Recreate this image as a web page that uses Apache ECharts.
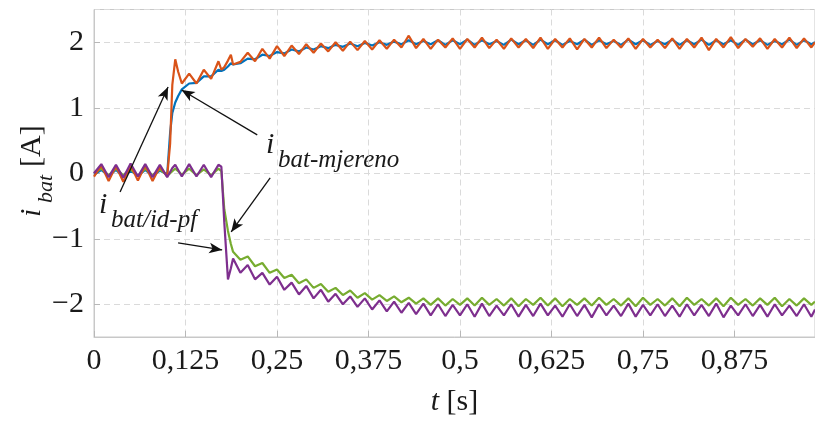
<!DOCTYPE html>
<html>
<head>
    <meta charset="UTF-8">
    <title>i_bat</title>
    <script src="https://cdn.jsdelivr.net/npm/echarts@6/dist/echarts.min.js"></script>
    <style>
        html, body { margin: 0; padding: 0; background: #fff; }
        #main { width: 815px; height: 421px; }
    </style>
</head>
<body>
    <div id="main"></div>
    <script type="text/javascript">
        // time base [s]
        const T = [
            0, 0.01, 0.02, 0.03, 0.04, 0.05, 0.06, 0.07, 0.08, 0.09, 0.10,
            0.104, 0.107, 0.111, 0.115, 0.12,
            0.13, 0.14, 0.15, 0.16, 0.17,
            0.174, 0.178, 0.183, 0.187,
            0.19, 0.20, 0.21, 0.22, 0.23, 0.24, 0.25, 0.26, 0.27, 0.28,
            0.29, 0.30, 0.31, 0.32, 0.33, 0.34, 0.35, 0.36, 0.37, 0.38,
            0.39, 0.40, 0.41, 0.42, 0.43, 0.44, 0.45, 0.46, 0.47, 0.48,
            0.49, 0.50, 0.51, 0.52, 0.53, 0.54, 0.55, 0.56, 0.57, 0.58,
            0.59, 0.60, 0.61, 0.62, 0.63, 0.64, 0.65, 0.66, 0.67, 0.68,
            0.69, 0.70, 0.71, 0.72, 0.73, 0.74, 0.75, 0.76, 0.77, 0.78,
            0.79, 0.80, 0.81, 0.82, 0.83, 0.84, 0.85, 0.86, 0.87, 0.88,
            0.89, 0.90, 0.91, 0.92, 0.93, 0.94, 0.95, 0.96, 0.97, 0.98,
            0.985
        ];

        // i_bat/id-pf (+)
        const orange = [
            -0.05, 0.12, -0.12, 0.11, -0.13, 0.12, -0.11, 0.12, -0.12, 0.10, -0.05,
            0.45, 1.35, 1.74, 1.55, 1.37,
            1.52, 1.37, 1.58, 1.44, 1.71,
            1.58, 1.62, 1.72, 1.81,
            1.66, 1.70, 1.84, 1.71, 1.90, 1.75, 1.94, 1.79, 1.95, 1.82,
            1.97, 1.84, 1.98, 1.86, 2.00, 1.87, 2.01, 1.88, 2.02, 1.89,
            2.03, 1.90, 2.04, 1.92, 2.10, 1.91, 2.05, 1.90, 2.04, 1.92,
            2.06, 1.90, 2.05, 1.92, 2.07, 1.91, 2.04, 1.90, 2.06, 1.92,
            2.05, 1.91, 2.07, 1.90, 2.05, 1.92, 2.06, 1.89, 2.05, 1.92,
            2.07, 1.91, 2.04, 1.92, 2.06, 1.90, 2.05, 1.92, 2.04, 1.91,
            2.06, 1.90, 2.05, 1.92, 2.07, 1.88, 2.05, 1.92, 2.08, 1.91,
            2.05, 1.93, 2.06, 1.90, 2.05, 1.92, 2.07, 1.91, 2.06, 1.92,
            2.00
        ];

        // i_bat-mjereno (+)
        const blue = [
            -0.02, 0.05, -0.04, 0.05, -0.05, 0.04, -0.04, 0.05, -0.04, 0.04, -0.02,
            0.62, 0.92, 1.08, 1.18, 1.28,
            1.37, 1.38, 1.48, 1.48, 1.58,
            1.56, 1.58, 1.63, 1.68,
            1.66, 1.68, 1.75, 1.74, 1.81, 1.79, 1.85, 1.83, 1.89, 1.86,
            1.92, 1.89, 1.94, 1.91, 1.96, 1.93, 1.98, 1.94, 1.99, 1.95,
            2.00, 1.96, 2.01, 1.97, 2.03, 1.97, 2.02, 1.97, 2.03, 1.96,
            2.03, 1.97, 2.04, 1.96, 2.03, 1.97, 2.02, 1.96, 2.04, 1.97,
            2.03, 1.96, 2.04, 1.97, 2.03, 1.96, 2.02, 1.97, 2.04, 1.96,
            2.03, 1.97, 2.02, 1.96, 2.04, 1.97, 2.03, 1.96, 2.02, 1.97,
            2.04, 1.96, 2.03, 1.97, 2.04, 1.96, 2.03, 1.97, 2.03, 1.96,
            2.04, 1.97, 2.03, 1.96, 2.02, 1.97, 2.04, 1.96, 2.03, 1.97,
            2.00
        ];

        // i_bat/id-pf (-)
        const purple = [
            0.00, 0.14, -0.06, 0.13, -0.07, 0.15, -0.05, 0.14, -0.06, 0.13, -0.06,
            0.02, 0.08, 0.13, 0.05, -0.05,
            0.14, -0.05, 0.13, -0.06, 0.13,
            0.10, -0.75, -1.62, -1.45,
            -1.30, -1.52, -1.40, -1.62, -1.52, -1.70, -1.58, -1.78, -1.67, -1.85,
            -1.72, -1.91, -1.78, -1.96, -1.84, -2.00, -1.88, -2.04, -1.91, -2.08,
            -1.94, -2.11, -1.96, -2.13, -1.98, -2.15, -1.99, -2.17, -2.00, -2.18,
            -2.01, -2.17, -2.00, -2.19, -1.99, -2.18, -2.02, -2.17, -2.00, -2.19,
            -2.01, -2.18, -1.99, -2.17, -2.02, -2.19, -2.00, -2.18, -2.01, -2.20,
            -2.00, -2.17, -2.02, -2.18, -1.99, -2.19, -2.01, -2.17, -2.00, -2.18,
            -2.02, -2.19, -2.00, -2.17, -2.01, -2.18, -1.99, -2.20, -2.02, -2.17,
            -2.00, -2.18, -2.01, -2.19, -2.00, -2.17, -2.02, -2.18, -2.00, -2.19,
            -2.08
        ];

        // i_bat-mjereno (-)
        const green = [
            0.00, 0.07, -0.03, 0.07, -0.03, 0.06, -0.04, 0.07, -0.03, 0.06, -0.03,
            0.00, 0.03, 0.07, 0.03, -0.02,
            0.07, -0.03, 0.06, -0.03, 0.07,
            0.03, -0.55, -0.88, -1.08,
            -1.20, -1.32, -1.27, -1.42, -1.37, -1.52, -1.47, -1.60, -1.55, -1.68,
            -1.62, -1.75, -1.69, -1.81, -1.75, -1.86, -1.79, -1.90, -1.83, -1.93,
            -1.86, -1.95, -1.88, -1.97, -1.90, -1.99, -1.91, -2.01, -1.91, -2.02,
            -1.92, -2.01, -1.91, -2.02, -1.90, -2.01, -1.92, -2.02, -1.91, -2.03,
            -1.92, -2.01, -1.90, -2.02, -1.91, -2.03, -1.92, -2.01, -1.91, -2.02,
            -1.90, -2.01, -1.92, -2.02, -1.91, -2.03, -1.90, -2.01, -1.92, -2.02,
            -1.91, -2.03, -1.90, -2.01, -1.92, -2.02, -1.91, -2.03, -1.90, -2.01,
            -1.92, -2.02, -1.91, -2.01, -1.90, -2.03, -1.92, -2.02, -1.91, -2.01,
            -1.96
        ];

        const xTickLabels = ['0', '0,125', '0,25', '0,375', '0,5', '0,625', '0,75', '0,875'];
        const yTicks = [-2, -1, 0, 1, 2];
        const yTickLabels = ['\u22122', '\u22121', '0', '1', '2'];

        // annotation arrows [from, to] in data units
        const arrows = [
            [[0.223, 0.585], [0.1197, 1.27]],
            [[0.2407, -0.072], [0.1874, -0.896]],
            [[0.0356, -0.285], [0.1012, 1.318]],
            [[0.1149, -1.064], [0.1751, -1.171]]
        ];

        const FONT = 'Liberation Serif';
        const TXT = '#1a1a1a';

        function pairs(ys) {
            return T.map((t, i) => [t, ys[i]]);
        }

        let myChart = echarts.init(document.getElementById('main'));

        let series = [
            { name: 'mjereno+', data: pairs(blue), color: '#0072BD' },
            { name: 'mjereno-', data: pairs(green), color: '#77AC30' },
            { name: 'idpf+', data: pairs(orange), color: '#D95319' },
            { name: 'idpf-', data: pairs(purple), color: '#7E2F8E' }
        ].map(s => ({
            name: s.name,
            type: 'line',
            data: s.data,
            showSymbol: false,
            lineStyle: { color: s.color, width: 2.2 },
            itemStyle: { color: s.color },
            z: 2
        }));

        series[3].markLine = {
            silent: true,
            symbol: ['none', 'arrow'],
            symbolSize: [8, 13],
            label: { show: false },
            lineStyle: { color: '#111', width: 1.3, type: 'solid' },
            data: arrows.map(a => [{ coord: a[0] }, { coord: a[1] }]),
            z: 10
        };

        // i + subscript helper for graphic text
        function labelParts(x, y, sub) {
            return [
                {
                    type: 'text', x: x, y: y,
                    style: { text: 'i', fontFamily: FONT, fontStyle: 'italic', fontSize: 30, fill: TXT, verticalAlign: 'middle' }
                },
                {
                    type: 'text', x: x + 12, y: y + 15,
                    style: { text: sub, fontFamily: FONT, fontStyle: 'italic', fontSize: 25, fill: TXT, verticalAlign: 'middle' }
                }
            ];
        }

        myChart.setOption({
            animation: false,
            backgroundColor: '#fff',
            grid: {
                left: 94, right: 0, top: 9.5, bottom: 84,
                show: true, borderColor: '#c8c8c8', borderWidth: 1,
                outerBoundsMode: 'none'
            },
            xAxis: {
                type: 'value',
                min: 0, max: 0.985, interval: 0.125,
                name: '{t|t}{u| [s]}',
                nameLocation: 'middle',
                nameGap: 50,
                nameTextStyle: {
                    rich: {
                        t: { fontFamily: FONT, fontSize: 30, fontStyle: 'italic', color: TXT },
                        u: { fontFamily: FONT, fontSize: 30, color: TXT }
                    }
                },
                axisLine: { show: true, onZero: false, lineStyle: { color: '#c8c8c8' } },
                axisTick: { show: true, inside: true, length: 6, lineStyle: { color: '#b8b8b8' } },
                axisLabel: {
                    margin: 9,
                    fontFamily: FONT, fontSize: 30, color: TXT,
                    showMaxLabel: false,
                    formatter: v => {
                        let k = Math.round(v / 0.125);
                        return Math.abs(k * 0.125 - v) < 1e-6 && xTickLabels[k] !== undefined ? xTickLabels[k] : '';
                    }
                },
                splitLine: { show: true, lineStyle: { color: '#dadada', type: [6, 4], width: 1 } }
            },
            yAxis: {
                type: 'value',
                min: -2.5, max: 2.5, splitNumber: 5,
                axisLine: { show: true, onZero: false, lineStyle: { color: '#c8c8c8' } },
                axisTick: { show: true, inside: true, length: 6, lineStyle: { color: '#b8b8b8' } },
                axisLabel: {
                    margin: 10,
                    fontFamily: FONT, fontSize: 30, color: TXT,
                    showMinLabel: false, showMaxLabel: false,
                    formatter: v => {
                        let i = yTicks.indexOf(Math.round(v * 1000) / 1000);
                        return i >= 0 ? yTickLabels[i] : '';
                    }
                },
                splitLine: { show: true, lineStyle: { color: '#dadada', type: [6, 4], width: 1 } }
            },
            graphic: [
                // y axis title, rotated
                {
                    type: 'group', x: 42, y: 217, rotation: Math.PI / 2,
                    children: [
                        { type: 'text', x: 0, y: -10, style: { text: 'i', fontFamily: FONT, fontStyle: 'italic', fontSize: 30, fill: TXT, verticalAlign: 'middle' } },
                        { type: 'text', x: 14, y: 4, style: { text: 'bat', fontFamily: FONT, fontStyle: 'italic', fontSize: 22, fill: TXT, verticalAlign: 'middle' } },
                        { type: 'text', x: 50, y: -10, style: { text: '[A]', fontFamily: FONT, fontSize: 30, fill: TXT, verticalAlign: 'middle' } }
                    ]
                }
            ].concat(labelParts(266, 145, 'bat-mjereno'), labelParts(99, 205, 'bat/id-pf')),
            series: series
        });
    </script>
</body>
</html>
